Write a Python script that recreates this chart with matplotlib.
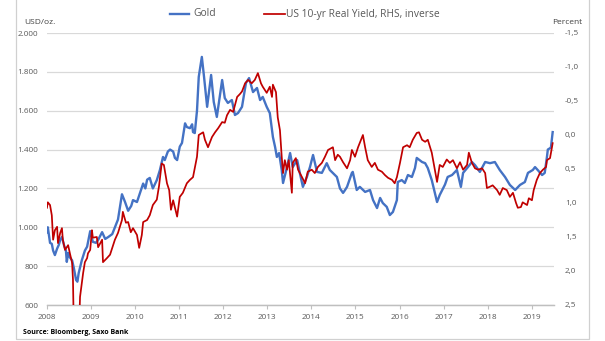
import matplotlib
matplotlib.use("Agg")
import matplotlib.pyplot as plt
from matplotlib.lines import Line2D
from matplotlib.patches import Rectangle
from matplotlib.ticker import FuncFormatter

plt.rcParams['font.family'] = ['Open Sans', 'DejaVu Sans']

# Gold price, USD/oz (time as years since 2008)
gold_t = [0.01, 0.03, 0.06, 0.08, 0.12, 0.15, 0.19, 0.24, 0.28, 0.31, 0.35, 0.40, 0.44, 0.46,
          0.49, 0.53, 0.58, 0.62, 0.67, 0.70, 0.73, 0.80, 0.87, 0.92, 0.99, 1.05, 1.12, 1.17,
          1.26, 1.33, 1.40, 1.49, 1.55, 1.62, 1.71, 1.78, 1.85, 1.92, 1.96, 2.05, 2.12, 2.19,
          2.24, 2.28, 2.34, 2.41, 2.50, 2.57, 2.64, 2.68, 2.75, 2.80, 2.87, 2.91, 2.96, 3.02,
          3.07, 3.14, 3.18, 3.25, 3.30, 3.32, 3.36, 3.41, 3.45, 3.52, 3.57, 3.64, 3.73, 3.79,
          3.86, 3.98, 4.04, 4.11, 4.20, 4.27, 4.34, 4.43, 4.52, 4.59, 4.68, 4.77, 4.84, 4.90,
          4.99, 5.06, 5.13, 5.18, 5.22, 5.27, 5.33, 5.36, 5.45, 5.52, 5.58, 5.68, 5.74, 5.81,
          5.90, 5.97, 6.04, 6.13, 6.24, 6.35, 6.42, 6.58, 6.65, 6.72, 6.76, 6.81, 6.92, 6.94,
          7.03, 7.10, 7.22, 7.33, 7.40, 7.49, 7.56, 7.62, 7.71, 7.78, 7.85, 7.94, 7.96, 8.05,
          8.12, 8.19, 8.28, 8.35, 8.39, 8.51, 8.58, 8.64, 8.73, 8.80, 8.85, 8.91, 9.03, 9.09,
          9.19, 9.30, 9.39, 9.44, 9.55, 9.64, 9.71, 9.82, 9.94, 10.05, 10.16, 10.27, 10.39,
          10.50, 10.62, 10.73, 10.84, 10.91, 11.02, 11.07, 11.13, 11.23, 11.29, 11.34, 11.36,
          11.43, 11.47]
gold_usd = [975, 1000, 950, 920, 915, 880, 857, 890, 910, 935, 950, 905, 880, 822,
            868, 845, 830, 790, 729, 720, 765, 830, 880, 900, 980, 925, 920, 935,
            975, 940, 950, 965, 1000, 1040, 1170, 1130, 1085, 1110, 1140, 1130, 1177, 1225,
            1200, 1245, 1254, 1200, 1243, 1295, 1362, 1346, 1390, 1400, 1390, 1357, 1346, 1415,
            1434, 1535, 1516, 1510, 1530, 1490, 1485, 1600, 1774, 1877, 1774, 1620, 1784, 1645,
            1568, 1758, 1665, 1640, 1655, 1578, 1588, 1620, 1743, 1768, 1696, 1717, 1655, 1671,
            1620, 1588, 1465, 1413, 1362, 1382, 1295, 1228, 1310, 1382, 1310, 1346, 1280, 1208,
            1259, 1310, 1372, 1285, 1280, 1330, 1295, 1259, 1200, 1177, 1190, 1208, 1280, 1285,
            1192, 1208, 1182, 1192, 1140, 1099, 1151, 1125, 1105, 1063, 1079, 1140, 1233, 1243,
            1228, 1269, 1259, 1305, 1357, 1336, 1330, 1305, 1243, 1177, 1130, 1166, 1220, 1259,
            1269, 1295, 1208, 1280, 1310, 1336, 1320, 1285, 1336, 1330, 1336, 1295, 1259,
            1218, 1192, 1218, 1233, 1280, 1295, 1310, 1295, 1269, 1280, 1362, 1400,
            1410, 1490]

# US 10-year real yield, percent (plotted on an inverted right axis)
ry_t = [0.01, 0.03, 0.08, 0.12, 0.15, 0.19, 0.24, 0.26, 0.31, 0.35, 0.37, 0.42, 0.49, 0.53,
        0.58, 0.60, 0.62, 0.70, 0.74, 0.76, 0.80, 0.83, 0.87, 0.92, 0.94, 0.99, 1.03, 1.05,
        1.14, 1.17, 1.26, 1.28, 1.37, 1.44, 1.49, 1.55, 1.62, 1.71, 1.73, 1.80, 1.85, 1.91,
        1.96, 2.05, 2.10, 2.16, 2.19, 2.28, 2.34, 2.41, 2.50, 2.55, 2.61, 2.66, 2.73, 2.78,
        2.82, 2.87, 2.96, 3.02, 3.09, 3.18, 3.25, 3.32, 3.36, 3.41, 3.45, 3.55, 3.59, 3.66,
        3.75, 3.82, 3.89, 3.98, 4.04, 4.09, 4.16, 4.23, 4.32, 4.38, 4.43, 4.50, 4.57, 4.65,
        4.72, 4.79, 4.86, 4.90, 4.99, 5.06, 5.11, 5.13, 5.20, 5.24, 5.29, 5.33, 5.36, 5.40,
        5.45, 5.49, 5.56, 5.58, 5.65, 5.70, 5.79, 5.86, 5.92, 6.01, 6.08, 6.15, 6.24, 6.31,
        6.38, 6.49, 6.54, 6.60, 6.65, 6.72, 6.81, 6.88, 6.92, 6.99, 7.06, 7.15, 7.17, 7.22,
        7.28, 7.37, 7.44, 7.51, 7.60, 7.67, 7.74, 7.83, 7.89, 7.94, 8.01, 8.08, 8.17, 8.23,
        8.30, 8.39, 8.44, 8.51, 8.58, 8.64, 8.73, 8.78, 8.85, 8.91, 8.98, 9.07, 9.14, 9.21,
        9.30, 9.37, 9.44, 9.53, 9.57, 9.64, 9.71, 9.78, 9.87, 9.94, 9.98, 10.05, 10.11, 10.21,
        10.27, 10.34, 10.43, 10.50, 10.57, 10.64, 10.68, 10.75, 10.79, 10.89, 10.93, 11.00,
        11.04, 11.11, 11.18, 11.25, 11.32, 11.34, 11.41, 11.47]
ry_pct = [1.07, 0.99, 1.03, 1.18, 1.54, 1.40, 1.35, 1.59, 1.44, 1.37, 1.54, 1.69, 1.62, 1.74,
          1.88, 2.13, 2.90, 3.10, 2.80, 2.38, 2.18, 2.03, 1.87, 1.81, 1.74, 1.69, 1.40, 1.51,
          1.50, 1.65, 1.54, 1.87, 1.81, 1.76, 1.66, 1.54, 1.44, 1.25, 1.13, 1.29, 1.28, 1.43,
          1.37, 1.47, 1.66, 1.47, 1.28, 1.25, 1.18, 1.03, 0.95, 0.75, 0.42, 0.44, 0.71, 0.81,
          1.10, 0.96, 1.20, 0.91, 0.85, 0.71, 0.66, 0.62, 0.49, 0.32, 0.00, -0.04, 0.07, 0.18,
          0.03, -0.04, -0.10, -0.19, -0.18, -0.29, -0.37, -0.34, -0.56, -0.60, -0.64, -0.76, -0.81, -0.76,
          -0.81, -0.91, -0.76, -0.71, -0.62, -0.71, -0.56, -0.74, -0.63, -0.26, -0.07, 0.32, 0.56, 0.37,
          0.51, 0.37, 0.85, 0.41, 0.34, 0.51, 0.62, 0.71, 0.54, 0.51, 0.56, 0.47, 0.41, 0.32,
          0.22, 0.18, 0.37, 0.29, 0.32, 0.40, 0.49, 0.37, 0.22, 0.32, 0.18, 0.03, 0.00, 0.18,
          0.37, 0.47, 0.41, 0.51, 0.54, 0.59, 0.63, 0.66, 0.71, 0.62, 0.41, 0.18, 0.15, 0.18,
          0.07, -0.03, -0.04, 0.07, 0.10, 0.07, 0.26, 0.44, 0.69, 0.44, 0.47, 0.36, 0.41, 0.37,
          0.49, 0.40, 0.51, 0.44, 0.26, 0.41, 0.49, 0.51, 0.49, 0.56, 0.78, 0.76, 0.74, 0.81,
          0.88, 0.78, 0.81, 0.91, 0.85, 1.00, 1.07, 1.06, 0.99, 1.03, 0.93, 0.96,
          0.81, 0.66, 0.56, 0.51, 0.47, 0.37, 0.34, 0.12]

years = list(range(2008, 2020))
gold_ticks = [600, 800, 1000, 1200, 1400, 1600, 1800, 2000]
ry_ticks = [-1.5, -1.0, -0.5, 0.0, 0.5, 1.0, 1.5, 2.0, 2.5]

BLUE = '#4472C4'
RED = '#C00000'
GRID = '#D9D9D9'
TXT = '#595959'

W, H = 605, 341
fig = plt.figure(figsize=(W / 100, H / 100), dpi=100)


def fx(x):
    return x / W


def fy(y):
    return 1 - y / H


left, right, top, bottom = 46.5, 554.0, 33.0, 305.0
ax = fig.add_axes([fx(left), fy(bottom), (right - left) / W, (bottom - top) / H])
ax2 = ax.twinx()

gx = [2008 + t for t in gold_t]
rx = [2008 + t for t in ry_t]
ax.plot(gx, gold_usd, color=BLUE, lw=1.7, solid_joinstyle='round', zorder=3)
ax2.plot(rx, ry_pct, color=RED, lw=1.25, solid_joinstyle='round', zorder=3)

ax.set_xlim(2008, 2019.5)
ax.set_ylim(600, 2000)
ax2.set_ylim(2.5, -1.5)

ax.set_xticks(years)
ax.set_xticklabels([str(y) for y in years])
ax.set_yticks(gold_ticks)
ax.yaxis.set_major_formatter(FuncFormatter(lambda v, p: f"{int(v):,}".replace(',', '.')))
ax2.set_yticks(ry_ticks)
ax2.yaxis.set_major_formatter(FuncFormatter(lambda v, p: f"{v:.1f}".replace('.', ',')))

ax.grid(axis='y', color=GRID, lw=0.9)
ax.set_axisbelow(True)
for a in (ax, ax2):
    for s in ('top', 'left', 'right'):
        a.spines[s].set_visible(False)
    a.spines['bottom'].set_color('#BFBFBF')
    a.spines['bottom'].set_linewidth(0.9)

ax.tick_params(axis='x', direction='out', length=3, width=0.8, color='#BFBFBF',
               labelsize=5.9, labelcolor=TXT, pad=3.5)
ax.tick_params(axis='y', length=0, labelsize=5.9, labelcolor=TXT, pad=6)
ax2.tick_params(axis='y', length=0, labelsize=5.9, labelcolor=TXT, pad=8)

# axis unit captions
fig.text(fx(24), fy(22), 'USD/oz.', fontsize=6.0, color='#404040', va='center', ha='left')
fig.text(fx(582), fy(22), 'Percent', fontsize=6.0, color='#404040', va='center', ha='right')

# legend
ly = fy(14)
fig.add_artist(Line2D([fx(170), fx(189)], [ly, ly], color=BLUE, lw=1.7, transform=fig.transFigure))
fig.text(fx(193), ly, 'Gold', fontsize=7.4, color=TXT, va='center', ha='left')
fig.add_artist(Line2D([fx(264), fx(285)], [ly, ly], color=RED, lw=1.25, transform=fig.transFigure))
fig.text(fx(286), ly, 'US 10-yr Real Yield, RHS, inverse', fontsize=7.4, color=TXT,
         va='center', ha='left')

# source note
fig.text(fx(23), fy(333), 'Source: Bloomberg, Saxo Bank', fontsize=5.0, color='#000000',
         fontweight='bold', va='center', ha='left')

# outer frame
fig.add_artist(Rectangle((fx(15.5), fy(339)), fx(589) - fx(15.5), 1.2, transform=fig.transFigure,
                         fill=False, edgecolor='#D0D0D0', lw=0.9))

fig.savefig('out.png', dpi=100)
